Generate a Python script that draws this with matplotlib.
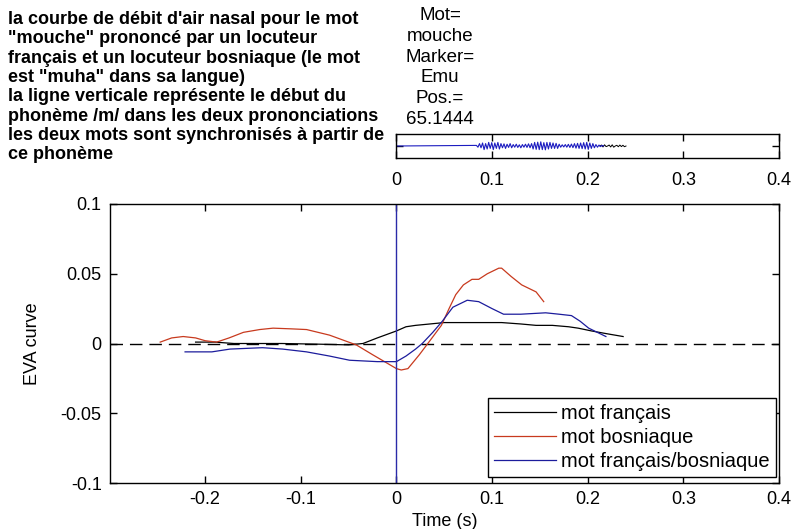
import numpy as np
import matplotlib
matplotlib.use("Agg")
import matplotlib.pyplot as plt

plt.rcParams['font.family'] = ['Liberation Sans', 'DejaVu Sans']

# EVA curves (time in s, value)
fr_t = [-0.21, -0.19, -0.17, -0.12, -0.08, -0.05, -0.035, -0.02, 0.0, 0.01, 0.02, 0.035,
        0.05, 0.08, 0.11, 0.13, 0.146, 0.163, 0.18, 0.19, 0.204, 0.22, 0.237]
fr_v = [0.001, 0.001, 0.0, 0.0, -0.0005, -0.001, 0.0, 0.004, 0.009, 0.012, 0.013, 0.014,
        0.015, 0.015, 0.015, 0.014, 0.013, 0.013, 0.012, 0.011, 0.009, 0.007, 0.005]

bs_t = [-0.247, -0.235, -0.223, -0.21, -0.2, -0.188, -0.175, -0.16, -0.143, -0.129, -0.11,
        -0.094, -0.07, -0.042, -0.025, -0.01, 0.0, 0.005, 0.012, 0.024, 0.035, 0.047, 0.055,
        0.062, 0.07, 0.079, 0.086, 0.095, 0.107, 0.11, 0.12, 0.131, 0.14, 0.146, 0.154]
bs_v = [0.001, 0.004, 0.005, 0.004, 0.002, 0.001, 0.004, 0.008, 0.010, 0.011, 0.0105,
        0.010, 0.006, -0.001, -0.008, -0.014, -0.018, -0.019, -0.018, -0.008, 0.002, 0.013, 0.025,
        0.035, 0.042, 0.046, 0.046, 0.050, 0.054, 0.054, 0.048, 0.042, 0.039, 0.037, 0.030]

fb_t = [-0.221, -0.193, -0.174, -0.14, -0.119, -0.094, -0.07, -0.049, -0.02, 0.0, 0.01, 0.02,
        0.027, 0.038, 0.048, 0.059, 0.074, 0.086, 0.1, 0.112, 0.13, 0.156, 0.17, 0.183, 0.192,
        0.201, 0.21, 0.219]
fb_v = [-0.006, -0.006, -0.004, -0.003, -0.004, -0.006, -0.009, -0.012, -0.013, -0.013, -0.009,
        -0.004, 0.0, 0.008, 0.016, 0.026, 0.031, 0.030, 0.025, 0.021, 0.021, 0.022, 0.021, 0.020,
        0.016, 0.011, 0.008, 0.005]

# small signal (top panel)
sig_t0 = 0.084
sig_dt = 0.0016
sig_blue = [0.05, -0.1, 0.2, -0.15, 0.25, -0.3, 0.2, -0.25, 0.3, -0.2, 0.28, -0.3, 0.25, -0.2,
            0.3, -0.25, 0.2, -0.15, 0.18, -0.2, 0.15, -0.12, 0.2, -0.15, 0.12, -0.1, 0.15, -0.12,
            0.1, -0.15, 0.12, -0.1, 0.15, -0.12, 0.18, -0.15, 0.2, -0.25, 0.3, -0.28, 0.32, -0.3,
            0.35, -0.3, 0.28, -0.32, 0.3, -0.25, 0.3, -0.2, 0.25, -0.2, 0.22, -0.2, 0.15, -0.1,
            0.1, -0.08, 0.12, -0.1, 0.14, -0.12, 0.16, -0.14, 0.2, -0.18, 0.22, -0.2, 0.25, -0.22,
            0.28, -0.25, 0.3, -0.28, 0.25, -0.2, 0.2, -0.15, 0.12, -0.1, 0.08, -0.05, 0.05, 0.0]
sig_blk_t0 = 0.213
sig_blk = [0.0, 0.08, -0.08, 0.1, -0.05, 0.0, 0.08, -0.08, 0.1, -0.1, 0.0, 0.06, -0.06, 0.08,
           -0.05, 0.06, -0.06, 0.0]

text_left = ("la courbe de débit d'air nasal pour le mot\n"
             "\"mouche\" prononcé par un locuteur\n"
             "français et un locuteur bosniaque (le mot\n"
             "est \"muha\" dans sa langue)\n"
             "la ligne verticale représente le début du\n"
             "phonème /m/ dans les deux prononciations\n"
             "les deux mots sont synchronisés à partir de\n"
             "ce phonème")
text_right = "Mot=\nmouche\nMarker=\nEmu\nPos.=\n65.1444"

W, H = 792, 529
fig = plt.figure(figsize=(W / 100, H / 100), dpi=100)

# main axes
ax = fig.add_axes([110 / W, 1 - 483 / H, 669 / W, 279 / H])
ax.axhline(0, color='black', lw=1, ls=(0, (9, 5)))
ax.plot(fr_t, fr_v, color='black', lw=0.9, label='mot français')
ax.plot(bs_t, bs_v, color='#c83a1e', lw=0.9, label='mot bosniaque')
ax.plot(fb_t, fb_v, color='#1c1c9c', lw=0.9, label='mot français/bosniaque')
ax.axvline(0, color='#2a2aa8', lw=1)
ax.set_xlim(-0.2995, 0.4)
ax.set_ylim(-0.1, 0.1)
ax.set_xticks([-0.2, -0.1, 0, 0.1, 0.2, 0.3, 0.4])
ax.set_xticklabels(['-0.2', '-0.1', '0', '0.1', '0.2', '0.3', '0.4'])
ax.set_yticks([-0.1, -0.05, 0, 0.05, 0.1])
ax.set_yticklabels(['-0.1', '-0.05', '0', '0.05', '0.1'])
ax.tick_params(direction='in', top=True, right=True, length=5, width=1, labelsize=13, pad=6)
for s in ax.spines.values():
    s.set_linewidth(1)
ax.set_xlabel('Time (s)', fontsize=13, labelpad=3)
ax.set_ylabel('EVA curve', fontsize=13, labelpad=14)
leg = ax.legend(loc='lower right', bbox_to_anchor=((776 - 110) / 669, 6 / 279),
                borderaxespad=0, prop={'size': 14.5}, handlelength=3.1, handletextpad=0.25,
                labelspacing=0.25, borderpad=0.3, fancybox=False, framealpha=1)
leg.get_frame().set_edgecolor('black')
leg.get_frame().set_linewidth(1)

# small signal axes
ax2 = fig.add_axes([396 / W, 1 - 158 / H, 383 / W, 24 / H])
blk_t = sig_blk_t0 + sig_dt * np.arange(len(sig_blk))
ax2.plot(blk_t, sig_blk, color='black', lw=0.7)
blue_t = np.concatenate([[0.0], sig_t0 + sig_dt * np.arange(len(sig_blue))])
blue_v = np.concatenate([[0.0], sig_blue])
ax2.plot(blue_t, blue_v, color='#1c1cc0', lw=0.8)
ax2.axvline(0, color='#1c1cc0', lw=1.5)
ax2.set_xlim(0, 0.4)
ax2.set_ylim(-1, 1)
ax2.set_xticks([0, 0.1, 0.2, 0.3, 0.4])
ax2.set_xticklabels(['0', '0.1', '0.2', '0.3', '0.4'])
ax2.set_yticks([0])
ax2.set_yticklabels([])
ax2.tick_params(direction='in', top=True, right=True, length=5, width=1, labelsize=13, pad=10)
for s in ax2.spines.values():
    s.set_linewidth(1)

# texts
fig.text(8 / W, 1 - 11 / H, text_left, fontsize=13, fontweight='bold', ha='left', va='top',
         linespacing=1.18, zorder=5,
         bbox=dict(facecolor='white', edgecolor='none', pad=4))
fig.text(440 / W, 1 - 7 / H, text_right, fontsize=13.5, ha='center', va='top', linespacing=1.29)

fig.savefig('out.png', dpi=100)
